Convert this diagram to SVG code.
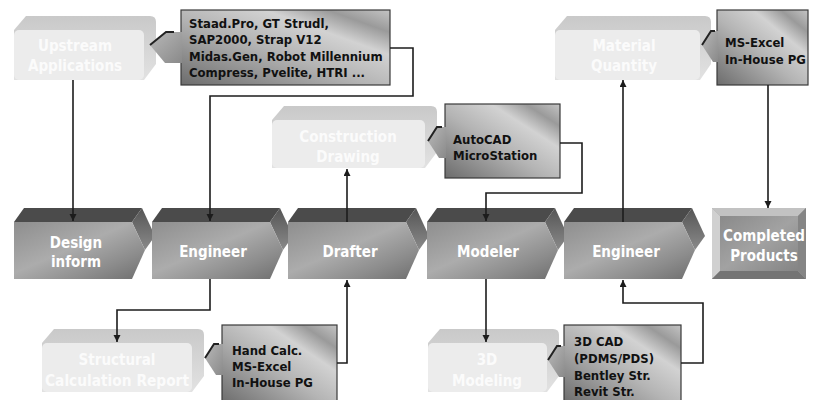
<svg xmlns="http://www.w3.org/2000/svg" xmlns:xlink="http://www.w3.org/1999/xlink" width="813" height="400" viewBox="0 0 813 400">
<style>
.ct{font-family:"DejaVu Sans Condensed","Liberation Sans",sans-serif;font-weight:bold;font-size:15px;fill:#ffffff;text-anchor:middle}
.lt{font-family:"DejaVu Sans Condensed","Liberation Sans",sans-serif;font-weight:bold;font-size:15px;fill:#fbfbfb;text-anchor:middle}
.st{font-family:"DejaVu Sans Condensed","Liberation Sans",sans-serif;font-weight:bold;font-size:13px;fill:#111111}
.conn{fill:none;stroke:#1c1c1c;stroke-width:1.6}
.cbox{fill:url(#gBox);stroke:#3a3a3a;stroke-width:1.2}
.ptr{fill:url(#gPtr)}
.ptrl{fill:none;stroke:#222;stroke-width:2}
.lfront{fill:#ececec}
.lback{fill:url(#gLBack)}
</style>
<defs>
<linearGradient id="gFront" x1="0" y1="0" x2="1" y2="1">
<stop offset="0" stop-color="#8e8e8e"/>
<stop offset="0.45" stop-color="#acacac"/>
<stop offset="0.75" stop-color="#8c8c8c"/>
<stop offset="1" stop-color="#6e6e6e"/>
</linearGradient>
<linearGradient id="gSide" x1="0" y1="0" x2="0" y2="1">
<stop offset="0" stop-color="#555"/>
<stop offset="1" stop-color="#8a8a8a"/>
</linearGradient>
<linearGradient id="gBox" x1="0" y1="1" x2="1" y2="0">
<stop offset="0" stop-color="#6c6c6c"/>
<stop offset="0.45" stop-color="#b4b4b4"/>
<stop offset="0.7" stop-color="#d2d2d2"/>
<stop offset="0.85" stop-color="#9a9a9a"/>
<stop offset="1" stop-color="#c4c4c4"/>
</linearGradient>
<linearGradient id="gPtr" x1="0" y1="0" x2="1" y2="1">
<stop offset="0" stop-color="#b8b8b8"/>
<stop offset="1" stop-color="#8a8a8a"/>
</linearGradient>
<linearGradient id="gLBack" x1="0" y1="0" x2="0" y2="1">
<stop offset="0" stop-color="#c9c9c9"/>
<stop offset="1" stop-color="#e2e2e2"/>
</linearGradient>
<linearGradient id="gCP" x1="0" y1="0" x2="1" y2="1">
<stop offset="0" stop-color="#8a8a8a"/>
<stop offset="0.5" stop-color="#a2a2a2"/>
<stop offset="1" stop-color="#848484"/>
</linearGradient>
<g id="chev">
<polygon points="10,208 128,208 118,222 0,222" fill="#4b4b4b"/>
<polygon points="118,222 128,208 141,236 131,250" fill="url(#gSide)"/>
<polygon points="0,222 118,222 131,250 118,279 0,279" fill="url(#gFront)"/>
</g>
<marker id="arr" markerUnits="userSpaceOnUse" markerWidth="8" markerHeight="8" refX="7" refY="3.5" orient="auto">
<path d="M0,0 L7,3.5 L0,7 z" fill="#1c1c1c"/>
</marker>
</defs>
<rect width="813" height="400" fill="#ffffff"/>

<!-- light boxes -->
<g id="upstream">
<path class="lback" d="M14,30 L26,16 L150,16 Q156,16 156,22 L156,64 L144,80 L14,80 Z"/>
<rect class="lfront" x="14" y="30" width="130" height="50" rx="5"/>
<text class="lt" x="75" y="51">Upstream</text>
<text class="lt" x="75" y="71">Applications</text>
</g>
<g id="construction">
<path class="lback" d="M272,120 L284,106 L431,106 Q437,106 437,112 L437,152 L425,168 L272,168 Z"/>
<rect class="lfront" x="272" y="120" width="153" height="48" rx="5"/>
<text class="lt" x="348" y="142">Construction</text>
<text class="lt" x="348" y="162">Drawing</text>
</g>
<g id="material">
<path class="lback" d="M555,30 L567,16 L705,16 Q711,16 711,22 L711,64 L700,80 L555,80 Z"/>
<rect class="lfront" x="555" y="30" width="145" height="50" rx="5"/>
<text class="lt" x="624" y="51">Material</text>
<text class="lt" x="624" y="71">Quantity</text>
</g>
<g id="structural">
<path class="lback" d="M42,343 L54,329 L198,329 Q204,329 204,335 L204,376 L192,392 L42,392 Z"/>
<rect class="lfront" x="42" y="343" width="150" height="49" rx="5"/>
<text class="lt" x="117" y="365">Structural</text>
<text class="lt" x="117" y="386" textLength="144" lengthAdjust="spacingAndGlyphs">Calculation Report</text>
</g>
<g id="modeling3d">
<path class="lback" d="M428,343 L440,329 L553,329 Q559,329 559,335 L559,376 L547,392 L428,392 Z"/>
<rect class="lfront" x="428" y="343" width="119" height="49" rx="5"/>
<text class="lt" x="487" y="365">3D</text>
<text class="lt" x="487" y="386">Modeling</text>
</g>

<!-- callout boxes -->
<g id="software">
<rect class="cbox" x="181" y="10" width="209" height="75"/>
<path class="ptr" d="M182,32 L166,32 L150,45 L165,63 L182,63 Z"/>
<path class="ptrl" d="M150,45 L166,32 L174,32"/>
<text class="st" x="189" y="28">Staad.Pro, GT Strudl,</text>
<text class="st" x="189" y="44">SAP2000, Strap V12</text>
<text class="st" x="189" y="61">Midas.Gen, Robot Millennium</text>
<text class="st" x="189" y="77">Compress, Pvelite, HTRI ...</text>
</g>
<g id="autocad">
<rect class="cbox" x="445" y="104" width="115" height="74"/>
<path class="ptr" d="M446,127 L437,127 L428,141 L439,158 L446,158 Z"/>
<path class="ptrl" d="M428,141 L437,127 L442,127"/>
<text class="st" x="453" y="144">AutoCAD</text>
<text class="st" x="453" y="160">MicroStation</text>
</g>
<g id="msexcel">
<rect class="cbox" x="717" y="10" width="91" height="75"/>
<path class="ptr" d="M718,31 L711,31 L702,45 L713,62 L718,62 Z"/>
<path class="ptrl" d="M702,45 L711,31 L715,31"/>
<text class="st" x="725" y="47">MS-Excel</text>
<text class="st" x="725" y="64">In-House PG</text>
</g>
<g id="handcalc">
<rect class="cbox" x="222" y="325" width="115" height="78"/>
<path class="ptr" d="M223,344 L214,344 L205,358 L216,375 L223,375 Z"/>
<path class="ptrl" d="M205,358 L214,344 L219,344"/>
<text class="st" x="232" y="355">Hand Calc.</text>
<text class="st" x="232" y="371">MS-Excel</text>
<text class="st" x="232" y="387">In-House PG</text>
</g>
<g id="cad3d">
<rect class="cbox" x="564" y="325" width="117" height="78"/>
<path class="ptr" d="M565,346 L557,346 L548,360 L559,377 L565,377 Z"/>
<path class="ptrl" d="M548,360 L557,346 L561,346"/>
<text class="st" x="574" y="346">3D CAD</text>
<text class="st" x="574" y="363">(PDMS/PDS)</text>
<text class="st" x="574" y="380">Bentley Str.</text>
<text class="st" x="574" y="396">Revit Str.</text>
</g>

<!-- main chevrons -->
<g id="design">
<use xlink:href="#chev" href="#chev" x="14"/>
<text class="ct" x="76" y="248">Design</text>
<text class="ct" x="76" y="267">inform</text>
</g>
<g id="engineer1">
<use xlink:href="#chev" href="#chev" x="152"/>
<text class="ct" x="213" y="257">Engineer</text>
</g>
<g id="drafter">
<use xlink:href="#chev" href="#chev" x="288"/>
<text class="ct" x="350" y="257">Drafter</text>
</g>
<g id="modeler">
<use xlink:href="#chev" href="#chev" x="427"/>
<text class="ct" x="488" y="257">Modeler</text>
</g>
<g id="engineer2">
<use xlink:href="#chev" href="#chev" x="564"/>
<text class="ct" x="626" y="257">Engineer</text>
</g>
<g id="completed">
<rect x="712" y="208" width="94" height="71" fill="#9c9c9c"/>
<polygon points="712,208 806,208 798,216 720,216" fill="#c2c2c2"/>
<polygon points="712,208 720,216 720,271 712,279" fill="#d0d0d0"/>
<polygon points="712,279 720,271 798,271 806,279" fill="#747474"/>
<polygon points="806,208 798,216 798,271 806,279" fill="#858585"/>
<rect x="720" y="216" width="78" height="55" fill="url(#gCP)"/>
<text class="ct" x="764" y="241">Completed</text>
<text class="ct" x="764" y="261">Products</text>
</g>

<!-- connectors -->
<g id="connectors">
<path class="conn" marker-end="url(#arr)" d="M73,80 V221"/>
<path class="conn" marker-end="url(#arr)" d="M390,48 H413 V96 H210 V221"/>
<path class="conn" marker-end="url(#arr)" d="M347,222 V169"/>
<path class="conn" marker-end="url(#arr)" d="M560,143 H582 V193 H486 V221"/>
<path class="conn" marker-end="url(#arr)" d="M623,222 V80"/>
<path class="conn" marker-end="url(#arr)" d="M768,85 V208"/>
<path class="conn" marker-end="url(#arr)" d="M210,279 V310 H117 V342"/>
<path class="conn" marker-end="url(#arr)" d="M337,363 H347 V280"/>
<path class="conn" marker-end="url(#arr)" d="M486,279 V342"/>
<path class="conn" marker-end="url(#arr)" d="M681,363 H703 V303 H623 V280"/>
</g>
</svg>
